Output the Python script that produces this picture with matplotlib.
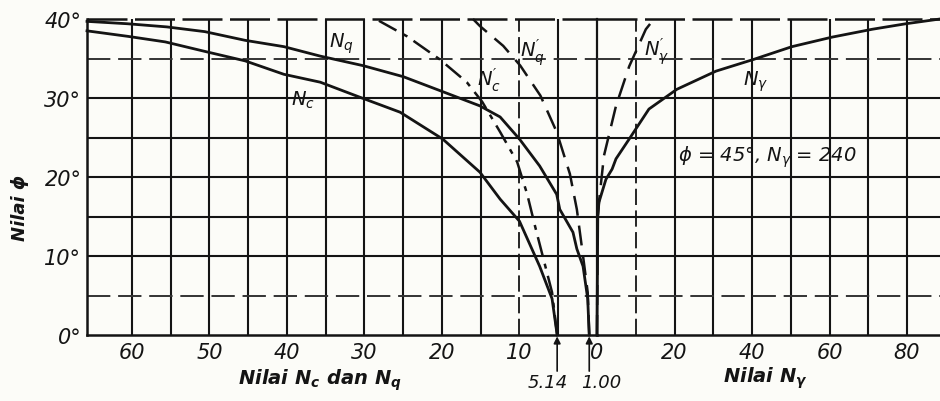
import matplotlib
matplotlib.use("Agg")
import matplotlib.pyplot as plt

plt.rcParams['mathtext.fontset'] = 'custom'
plt.rcParams['mathtext.it'] = 'DejaVu Sans:italic'
plt.rcParams['mathtext.rm'] = 'DejaVu Sans:italic'
plt.rcParams['mathtext.bf'] = 'DejaVu Sans:italic:bold'

# ---------------- data ----------------
phi_nc = [0, 4.6, 8.7, 14.4, 17.2, 20.6, 24.8, 28.2, 30.1, 32.0, 33.0, 34.7, 35.9, 37.1, 37.8, 38.5]
nc = [5.14, 5.8, 7.4, 10.0, 12.5, 15.1, 19.9, 25.4, 30.6, 35.7, 40.4, 45.4, 50.6, 55.7, 60.5, 65.8]

phi_nq = [0, 4.6, 8.7, 10.9, 13.0, 15.9, 17.8, 21.4, 24.8, 27.6, 29.0, 30.8, 32.7, 34.1, 35.3, 36.5, 37.3, 38.4, 39.0, 39.4, 39.7]
nq = [1.0, 1.2, 1.8, 2.6, 3.1, 4.8, 5.2, 7.4, 10.0, 12.5, 15.1, 19.9, 25.0, 30.2, 35.7, 40.4, 45.4, 50.6, 55.5, 60.6, 65.8]

phi_ncp = [0, 5.4, 9.6, 13.8, 17.8, 21.9, 25.7, 29.5, 32.0, 34.9, 37.8, 39.7, 40]
ncp = [5.14, 5.8, 6.9, 8.0, 9.0, 10.3, 12.5, 14.8, 16.8, 20.3, 24.5, 28.0, 28.5]

phi_nqp = [0, 5.4, 10.0, 15.9, 20.4, 25.7, 30.3, 34.1, 36.6, 39.1, 40]
nqp = [1.0, 1.2, 1.8, 2.6, 3.5, 5.2, 7.3, 9.9, 12.1, 15.1, 16.0]

phi_ng = [0, 15.0, 16.8, 19.7, 21.0, 22.3, 24.8, 28.6, 31.1, 33.4, 34.9, 36.5, 37.7, 38.7, 39.4, 40.0]
ng = [0, 0.2, 0.5, 2.3, 3.9, 4.9, 8.3, 13.4, 20.6, 30.7, 40.5, 50.3, 60.6, 71.0, 79.7, 88.5]

phi_ngp = [0, 15.0, 16.8, 22.7, 29.0, 34.0, 38.7, 40]
ngp = [0, 0.2, 0.5, 1.8, 4.9, 8.3, 12.6, 14.7]

left_ticks = [60, 50, 40, 30, 20, 10]
right_ticks = [0, 20, 40, 60, 80]
phi_ticks = [0, 10, 20, 30, 40]
phi_tick_labels = ['0°', '10°', '20°', '30°', '40°']
left_grid_solid = [60, 55, 50, 45, 40, 35, 30, 25, 20, 15, 5]
left_grid_dashed = [10]
right_grid_solid = [20, 30, 40, 50, 60, 70, 80]
right_grid_dashed = [10]
phi_grid_solid = [10, 15, 20, 25, 30]
phi_grid_dashed = [5, 35]
marked_values = [5.14, 1.00]
marked_labels = ['5.14', '1.00']

# ---------------- figure ----------------
W, H = 940, 402
fig = plt.figure(figsize=(W / 100, H / 100), dpi=100, facecolor='#fcfcf8')
x0, x_mid, x1 = 87, 597, 940
y_top, y_bot = 20, 336
axL = fig.add_axes([x0 / W, (H - y_bot) / H, (x_mid - x0) / W, (y_bot - y_top) / H])
axR = fig.add_axes([x_mid / W, (H - y_bot) / H, (x1 - x_mid) / W, (y_bot - y_top) / H])
ink = '#141414'
for ax in (axL, axR):
    ax.set_facecolor('none')
    ax.set_ylim(0, 40)
    for s in ax.spines.values():
        s.set_visible(False)
    ax.tick_params(length=0)

axL.set_xlim(65.8, 0)
axR.set_xlim(0, 88.5)

glw = 1.5
for ax, solid, dashed in ((axL, left_grid_solid, left_grid_dashed), (axR, right_grid_solid, right_grid_dashed)):
    for v in solid:
        ax.axvline(v, color=ink, lw=glw, zorder=1)
    for v in dashed:
        ax.axvline(v, color=ink, lw=1.3, dashes=(9, 3), zorder=1)
    for v in phi_grid_solid:
        ax.axhline(v, color=ink, lw=glw, zorder=1)
    for v in phi_grid_dashed:
        ax.axhline(v, color='#333333', lw=1.4, dashes=(12, 4), zorder=1)
    ax.axhline(40, color=ink, lw=1.8, dashes=(16, 3), zorder=1, clip_on=False)
    ax.axhline(0, color=ink, lw=1.8, zorder=2, clip_on=False)
axL.axvline(65.8, color=ink, lw=1.8, zorder=2, clip_on=False)
axL.axvline(0, color=ink, lw=1.6, zorder=2, clip_on=False)

clw = 2.0
axL.plot(nc, phi_nc, color=ink, lw=clw, zorder=3, clip_on=False)
axL.plot(nq, phi_nq, color=ink, lw=clw, zorder=3, clip_on=False)
axL.plot(ncp, phi_ncp, color=ink, lw=1.8, dashes=(8, 3, 2, 3), zorder=3, clip_on=False)
axL.plot(nqp, phi_nqp, color=ink, lw=1.8, dashes=(8, 4), zorder=3, clip_on=False)
axR.plot(ng, phi_ng, color=ink, lw=clw, zorder=3, clip_on=False)
axR.plot(ngp, phi_ngp, color=ink, lw=1.8, dashes=(8, 4), zorder=3, clip_on=False)

# ticks
tfs = 15
axL.set_xticks(left_ticks)
axL.set_xticklabels([str(t) for t in left_ticks], fontsize=tfs, style='italic', color=ink)
axR.set_xticks(right_ticks)
axR.set_xticklabels([str(t) for t in right_ticks], fontsize=tfs, style='italic', color=ink)
axL.set_yticks(phi_ticks)
axL.set_yticklabels(phi_tick_labels, fontsize=tfs, style='italic', color=ink)
axR.set_yticks([])
for ax in (axL, axR):
    ax.tick_params(axis='x', pad=5)
axL.tick_params(axis='y', pad=4)

# curve labels
lfs = 14
axL.text(33.0, 37.0, r'$N_q$', fontsize=lfs, color=ink, ha='center', va='center')
axL.text(38.0, 29.8, r'$N_c$', fontsize=lfs, color=ink, ha='center', va='center')
axL.text(14.0, 32.4, r"$N_c^{\prime}$", fontsize=lfs, color=ink, ha='center', va='center')
axL.text(8.3, 35.8, r"$N_q^{\prime}$", fontsize=lfs, color=ink, ha='center', va='center')
axR.text(15.5, 36.0, r"$N_\gamma^{\prime}$", fontsize=lfs, color=ink, ha='center', va='center')
axR.text(41.0, 32.2, r'$N_\gamma$', fontsize=lfs, color=ink, ha='center', va='center')
axR.text(44.0, 22.6, r'$\phi$ = 45°, $N_\gamma$ = 240', fontsize=14, color=ink,
         ha='center', va='center', style='italic')

# arrows for phi = 0 values
for v in marked_values:
    axL.annotate('', xy=(v, 0), xycoords='data', xytext=(0, -26), textcoords='offset points',
                 arrowprops=dict(arrowstyle='-|>', color=ink, lw=1.2, mutation_scale=10,
                                 shrinkA=0, shrinkB=1), annotation_clip=False)
label_offsets = [-7, 9]
for v, lab, dx in zip(marked_values, marked_labels, label_offsets):
    axL.annotate(lab, xy=(v, 0), xytext=(dx, -34), textcoords='offset points',
                 fontsize=13, style='italic', color=ink, ha='center', va='center',
                 annotation_clip=False)

# axis titles
fig.text(320 / W, 1 - 380 / H, r'Nilai $\mathbf{N_c}$ dan $\mathbf{N_q}$', fontsize=14, fontweight='bold',
         style='italic', color=ink, ha='center', va='center')
fig.text(765 / W, 1 - 378 / H, r'Nilai $\mathbf{N_\gamma}$', fontsize=14, fontweight='bold',
         style='italic', color=ink, ha='center', va='center')
fig.text(20 / W, 1 - 208 / H, 'Nilai ϕ', fontsize=13, fontweight='bold', style='italic',
         color=ink, ha='center', va='center', rotation=90)

fig.savefig('out.png', dpi=100, facecolor=fig.get_facecolor())
